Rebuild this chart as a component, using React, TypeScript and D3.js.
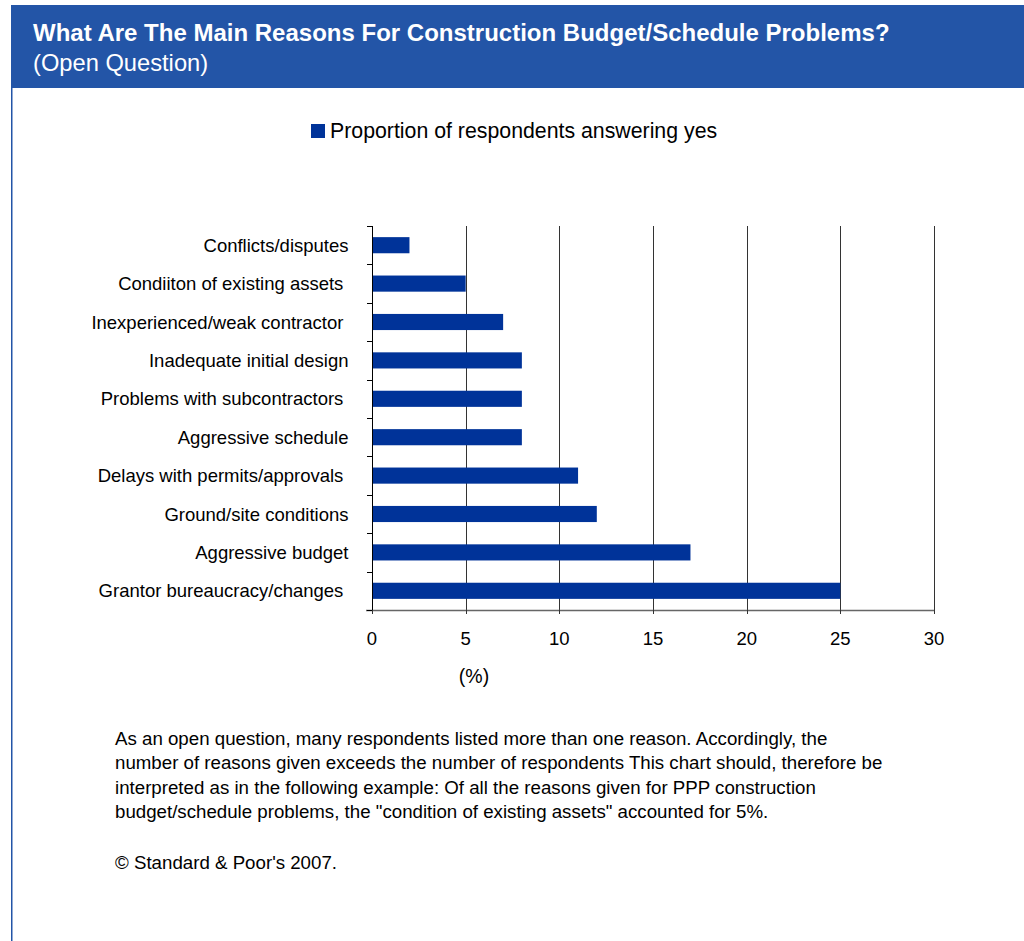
import React, { useEffect, useRef } from "react";
import * as d3 from "d3";

// category labels keep the trailing spaces of the source sheet
const categories = [
  "Conflicts/disputes",
  "Condiiton of existing assets ",
  "Inexperienced/weak contractor ",
  "Inadequate initial design",
  "Problems with subcontractors ",
  "Aggressive schedule",
  "Delays with permits/approvals ",
  "Ground/site conditions",
  "Aggressive budget",
  "Grantor bureaucracy/changes ",
];
const values = [2, 5, 7, 8, 8, 8, 11, 12, 17, 25];
const xTicks = [0, 5, 10, 15, 20, 25, 30];

const titleText = "What Are The Main Reasons For Construction Budget/Schedule Problems?";
const subtitleText = "(Open Question)";
const legendText = "Proportion of respondents answering yes";
const axisTitle = "(%)";
const noteLines = [
  "As an open question, many respondents listed more than one reason. Accordingly, the",
  "number of reasons given exceeds the number of respondents This chart should, therefore be",
  "interpreted as in the following example: Of all the reasons given for PPP construction",
  "budget/schedule problems, the \"condition of existing assets\" accounted for 5%.",
];
const copyright = "© Standard & Poor's 2007.";

const W = 1024;
const H = 941;
const FONT = "'Liberation Sans', Arial, Helvetica, sans-serif";
const BAR = "#003399";
const HEADER = "#2355a7";

export default function App() {
  const ref = useRef<SVGSVGElement | null>(null);

  useEffect(() => {
    const svg = d3.select(ref.current);
    svg.selectAll("*").remove();

    // frame: header band and left rule
    svg.append("rect").attr("x", 11).attr("y", 5).attr("width", W - 11).attr("height", 83).attr("fill", HEADER);
    svg.append("rect").attr("x", 11).attr("y", 88).attr("width", 1.5).attr("height", H - 88).attr("fill", HEADER);

    svg.append("text").attr("x", 33).attr("y", 41).attr("fill", "#fff")
      .attr("font-family", FONT).attr("font-weight", "bold").attr("font-size", 24).text(titleText);
    svg.append("text").attr("x", 33).attr("y", 71).attr("fill", "#fff")
      .attr("font-family", FONT).attr("font-size", 23.7).text(subtitleText);

    // legend
    svg.append("rect").attr("x", 311).attr("y", 124).attr("width", 14).attr("height", 14).attr("fill", BAR);
    svg.append("text").attr("x", 330).attr("y", 138).attr("fill", "#000")
      .attr("font-family", FONT).attr("font-size", 21.3).text(legendText);

    // plot
    const left = 372, right = 934, top = 226, bottom = 610;
    const x = d3.scaleLinear().domain([0, 30]).range([left, right]);
    const y = d3.scaleBand().domain(categories).range([top, bottom]).paddingInner(0.58).paddingOuter(0.29);

    const g = svg.append("g");
    // gridlines
    g.selectAll("line.grid").data(xTicks.filter((t) => t > 0)).join("line")
      .attr("x1", (d) => Math.round(x(d)) + 0.5).attr("x2", (d) => Math.round(x(d)) + 0.5)
      .attr("y1", top).attr("y2", bottom).attr("stroke", "#333").attr("stroke-width", 1);

    // bars
    g.selectAll("rect.bar").data(values).join("rect")
      .attr("x", x(0)).attr("y", (_, i) => y(categories[i])!)
      .attr("width", (d) => x(d) - x(0)).attr("height", y.bandwidth()).attr("fill", BAR);

    // x axis line
    g.append("line").attr("x1", left - 6).attr("x2", right).attr("y1", bottom + 0.5).attr("y2", bottom + 0.5)
      .attr("stroke", "#666").attr("stroke-width", 1.5);
    g.selectAll("line.xt").data(xTicks).join("line")
      .attr("x1", (d) => Math.round(x(d)) + 0.5).attr("x2", (d) => Math.round(x(d)) + 0.5)
      .attr("y1", bottom).attr("y2", bottom + 4).attr("stroke", "#333");
    g.selectAll("text.xl").data(xTicks).join("text")
      .attr("x", (d) => x(d)).attr("y", 644.5).attr("text-anchor", "middle")
      .attr("font-family", FONT).attr("font-size", 18.5).attr("fill", "#000").text((d) => String(d));

    // y axis line + ticks on band boundaries
    g.append("line").attr("x1", left + 0.5).attr("x2", left + 0.5).attr("y1", top).attr("y2", bottom)
      .attr("stroke", "#000");
    const step = (bottom - top) / categories.length;
    g.selectAll("line.yt").data(d3.range(categories.length + 1)).join("line")
      .attr("x1", left - 5).attr("x2", left)
      .attr("y1", (i) => Math.round(top + i * step) + 0.5).attr("y2", (i) => Math.round(top + i * step) + 0.5)
      .attr("stroke", "#000");
    g.selectAll("text.yl").data(categories).join("text")
      .attr("x", 348.5).attr("y", (d) => y(d)! + y.bandwidth() / 2 + 6.5).attr("text-anchor", "end")
      .style("white-space", "pre")
      .attr("font-family", FONT).attr("font-size", 18.5).attr("fill", "#000").text((d) => d);

    svg.append("text").attr("x", 474).attr("y", 683).attr("text-anchor", "middle")
      .attr("font-family", FONT).attr("font-size", 19.5).attr("fill", "#000").text(axisTitle);

    // note
    noteLines.forEach((line, i) => {
      svg.append("text").attr("x", 115).attr("y", 744.5 + i * 24.5)
        .attr("font-family", FONT).attr("font-size", 18.7).attr("fill", "#000").text(line);
    });
    svg.append("text").attr("x", 115).attr("y", 868.5)
      .attr("font-family", FONT).attr("font-size", 18.7).attr("fill", "#000").text(copyright);
  }, []);

  return (
    <svg ref={ref} width={W} height={H}
      style={{ position: "absolute", left: 0, top: 0, background: "#fff" }} />
  );
}
